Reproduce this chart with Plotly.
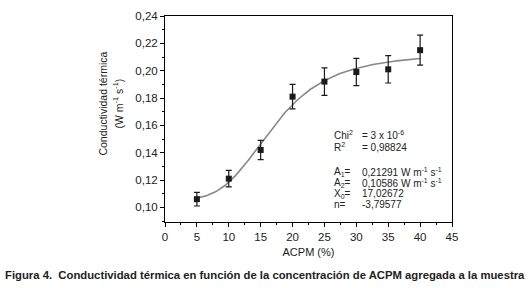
import numpy as np
import plotly.graph_objects as go

# Data
acpm = [5, 10, 15, 20, 25, 30, 35, 40]
conductividad = [0.106, 0.121, 0.142, 0.181, 0.192, 0.199, 0.201, 0.215]
error = [0.005, 0.006, 0.007, 0.009, 0.010, 0.010, 0.010, 0.011]

# Fit parameters shown on the chart (logistic fit)
A1 = 0.21291
A2 = 0.10586
X0 = 17.02672
N_EXP = -3.79577

x_ticks = [0, 5, 10, 15, 20, 25, 30, 35, 40, 45]
y_ticks = [0.10, 0.12, 0.14, 0.16, 0.18, 0.20, 0.22, 0.24]

xf = np.linspace(min(acpm), max(acpm), 200)
yf = A2 + (A1 - A2) / (1 + (xf / X0) ** N_EXP)

FONT = "Liberation Sans, Arial, sans-serif"

fig = go.Figure()
fig.add_trace(go.Scatter(x=xf, y=yf, mode="lines",
                         line=dict(color="#888888", width=1.6),
                         hoverinfo="skip", showlegend=False))
fig.add_trace(go.Scatter(x=acpm, y=conductividad, mode="markers",
                         marker=dict(symbol="square", size=6, color="#1a1a1a"),
                         error_y=dict(type="data", array=error, visible=True,
                                      color="#1a1a1a", thickness=1.2, width=3),
                         showlegend=False))

axis_common = dict(showline=True, linecolor="black", linewidth=1, mirror=True,
                   ticks="outside", ticklen=4, tickcolor="black", showgrid=False,
                   zeroline=False, tickfont=dict(family=FONT, size=11.5, color="#222"))

fig.update_xaxes(range=[0, 45], tickvals=x_ticks, ticktext=[str(v) for v in x_ticks],
                 minor=dict(ticks="outside", ticklen=2, dtick=2.5, tickcolor="black"),
                 title=dict(text="ACPM (%)", font=dict(family=FONT, size=11, color="#222"), standoff=6),
                 **axis_common)
fig.update_yaxes(range=[0.0893, 0.24], tickvals=y_ticks,
                 ticktext=[f"{v:.2f}".replace(".", ",") for v in y_ticks],
                 minor=dict(ticks="outside", ticklen=2, dtick=0.01, tick0=0, tickcolor="black"),
                 **axis_common)

ann_font = dict(family=FONT, size=10, color="#222")
labels = [
    ("Chi<sup>2</sup>", "= 3 x 10<sup>-6</sup>", 0.1526),
    ("R<sup>2</sup>", "= 0,98824", 0.1441),
    ("A<sub>1</sub>=", "0,21291 W m<sup>-1</sup> s<sup>-1</sup>", 0.1258),
    ("A<sub>2</sub>=", "0,10586 W m<sup>-1</sup> s<sup>-1</sup>", 0.1176),
    ("X<sub>0</sub>=", "17,02672", 0.1100),
    ("n=", "-3,79577", 0.1024),
]
for lab, val, yv in labels:
    fig.add_annotation(x=26.2, y=yv, text=lab, showarrow=False, xanchor="left",
                       yanchor="middle", font=ann_font)
    fig.add_annotation(x=30.6, y=yv, text=val, showarrow=False, xanchor="left",
                       yanchor="middle", font=ann_font)

title_font = dict(family=FONT, size=10.5, color="#222")
fig.add_annotation(xref="paper", yref="paper", x=-0.216, y=0.575,
                   xanchor="center", yanchor="middle",
                   text="Conductividad térmica", textangle=-90, showarrow=False,
                   font=title_font)
fig.add_annotation(xref="paper", yref="paper", x=-0.164, y=0.575,
                   xanchor="center", yanchor="middle",
                   text="(W m<sup>-1</sup> s<sup>-1</sup>)", textangle=-90, showarrow=False,
                   font=title_font)

fig.add_annotation(xref="paper", yref="paper", x=0.348, y=-0.255, xanchor="center",
                   yanchor="middle",
                   text="<b>Figura 4.  Conductividad térmica en función de la concentración de ACPM agregada a la muestra</b>",
                   showarrow=False, font=dict(family=FONT, size=11.3, color="#222"))

fig.update_layout(width=531, height=288, margin=dict(l=165, r=79, t=10, b=66),
                  plot_bgcolor="white", paper_bgcolor="white",
                  separators=",.")

fig.write_html("out.html", config={"displayModeBar": False},
               post_script="document.body.style.margin='0';")
